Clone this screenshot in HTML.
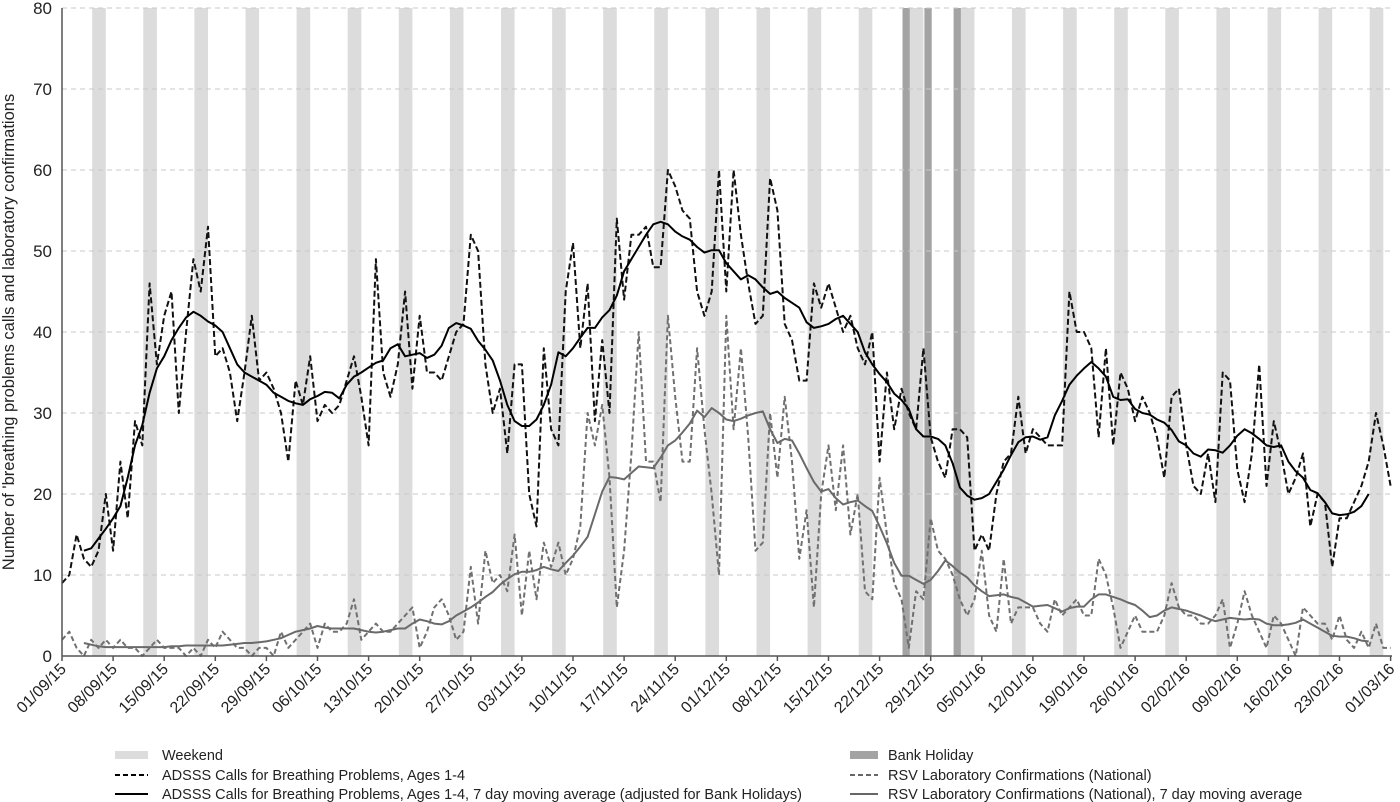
<!DOCTYPE html>
<html><head><meta charset="utf-8"><style>
body{margin:0;background:#fff;}
svg{display:block;font-family:"Liberation Sans",Arial,sans-serif;}
</style></head><body>
<svg id="chart" width="1400" height="802" viewBox="0 0 1400 802">
<g id="bands"></g><g id="grid"></g><g id="series"></g><g id="axes"></g><g id="legend"></g>
</svg>
<script>
const startDate=[2015,8,1];
const yTicks=[0,10,20,30,40,50,60,70,80];
const callsDaily=[9,10,15,12,11,13,20,
13,24,17,29,26,46,36,
42,45,30,40,49,45,53,
37,38,35,29,35,42,34,
35,33,30,24,34,31,37,
29,31,30,31,34,37,32,
26,49,35,32,36,45,33,
42,35,35,34,37,40,41,
52,50,36,30,33,25,36,
36,20,16,38,28,26,45,
51,38,46,29,39,30,54,
44,52,52,53,48,48,60,
58,55,54,45,42,45,60,
45,60,52,46,41,42,59,
55,41,39,34,34,46,43,
46,43,40,42,38,36,40,
24,35,28,33,30,28,38,
27,24,22,28,28,27,13,
15,13,20,24,25,32,25,
28,27,26,26,26,45,40,
40,38,27,38,26,35,33,
29,32,30,27,22,32,33,
26,21,20,25,19,35,34,
23,19,25,36,21,29,25,
20,22,25,16,20,19,11,
17,17,19,21,24,30,26,21];
const callsMAStart=3;
const callsMA=[13,13.3,14.5,15.7,17,18.5,22,26,28.5,32.5,35.5,37,39,40.5,41.8,42.5,42,41.3,40.8,40,38,36,35,34.5,34,33.5,32.5,32,31.5,31.2,31,31.7,32.1,32.6,32.5,31.8,33.5,34.5,35,35.6,36.2,36.5,38,38.5,37,37.2,37.4,36.8,37.2,38.3,40.5,41.1,40.8,40.4,38.9,37.8,36.5,34,31,29,28.4,28.4,29.2,31,33.5,37.5,37,38,39.3,40.5,40.5,41.8,42.7,44.5,47.5,49,50.5,52,53.3,53.6,53.3,52.4,51.8,51.4,50.5,49.8,50.1,50.1,48.5,47.5,46.5,47,46.5,45.5,44.7,45,44.2,43.6,43,41.2,40.5,40.7,41,41.6,42,41,40,37.5,36,34.8,33.8,32.4,31.6,30.5,28,27.1,27.1,26.8,26,23.8,20.8,19.8,19.3,19.5,20,21.5,23,24.8,26.4,27,27.1,26.7,27,29.7,31.5,33.5,34.6,35.5,36.3,35.5,34.5,32,31.6,31.7,30.5,30,29.8,29.2,28.8,27.9,26.5,26,25,24.6,25.5,25.4,25.1,26,27.2,28,27.5,26.8,26,25.8,26,24,22.8,22,20.5,20.1,19,17.6,17.4,17.5,17.8,18.5,20];
const rsvDaily=[2,3,1,0,2,1,2,
1,2,1,1,0,1,2,
1,1,1,0,1,0,2,
1,3,2,1,1,0,1,
1,0,3,1,2,3,4,
1,4,3,3,4,7,2,
3,4,3,3,4,5,6,
1,3,6,7,5,2,3,
11,4,13,9,10,8,15,
5,13,7,14,11,14,10,
12,16,30,26,31,22,6,
13,25,40,24,24,19,42,
32,24,24,38,28,20,10,
42,28,38,27,13,14,30,
22,32,24,12,18,6,20,
26,18,26,15,20,8,7,
22,15,9,7,1,8,7,
17,13,12,10,7,5,7,
13,5,3,12,4,6,6,
6,4,3,7,5,6,7,
5,5,12,10,6,1,3,
5,3,3,3,5,9,6,
5,5,4,4,5,7,1,
4,8,5,3,1,5,4,
2,0,6,5,4,4,2,
5,2,1,3,1,4,1,1];
const rsvMAStart=3;
const rsvMA=[1.6,1.4,1.2,1.1,1.1,1.1,1.1,1.1,1.1,1.1,1.1,1.1,1.2,1.2,1.3,1.3,1.3,1.3,1.3,1.3,1.4,1.5,1.6,1.6,1.7,1.8,2.0,2.2,2.6,3.0,3.2,3.4,3.7,3.5,3.4,3.4,3.4,3.4,3.2,3.0,2.9,3.0,3.2,3.4,3.4,4.0,4.5,4.3,4.0,3.9,4.3,5.0,5.5,6.0,6.6,7.3,7.9,8.8,9.5,10.1,10.4,10.4,10.6,11.0,10.7,10.5,11.5,12.4,13.5,14.7,17.5,20.3,22.1,22.0,21.8,22.6,23.4,23.3,23.2,24.5,26,26.6,27.6,28.7,30.3,29.5,30.6,30,29.2,29,29.3,29.7,30,30.2,28,26.3,26.8,26.6,25,23.2,21.5,20.3,20.6,19.5,18.7,19,19.2,18.5,17.9,16,13.9,11.5,9.9,9.9,9.4,8.9,9.4,10.5,11.8,11.1,10.3,9.7,8.7,8,7.4,7.5,7.6,7.3,7.1,6.6,6.1,6.2,6.3,5.9,5.5,5.9,6.1,6.1,7,7.6,7.6,7.3,7.0,6.6,6.3,5.6,4.8,5,5.6,6.0,5.8,5.6,5.3,5.0,4.6,4.3,4.5,4.7,4.6,4.5,4.6,4.5,4.0,3.8,3.8,3.9,4.1,4.5,4.0,3.5,3.0,2.5,2.4,2.4,2.2,1.9,1.8];
const bankHolidays=[115,118,122];
const firstWeekendDay=4;
const numDays=183;

const NS="http://www.w3.org/2000/svg";
const X0=62,DX=7.3,Y0=656,YS=8.1;
function xs(d){return X0+d*DX;}
function ys(v){return Y0-v*YS;}
function mk(tag,attrs,parent){const e=document.createElementNS(NS,tag);for(const k in attrs)e.setAttribute(k,attrs[k]);parent.appendChild(e);return e;}
const bands=document.getElementById('bands'),grid=document.getElementById('grid'),ser=document.getElementById('series'),axes=document.getElementById('axes'),leg=document.getElementById('legend');

for(let d=firstWeekendDay;d<numDays;d+=7){
  const r=mk('rect',{x:xs(d)+1,y:ys(80),width:Math.min(xs(d+2),xs(numDays-1)+5)-xs(d)-1,height:Y0-ys(80),fill:'#dcdcdc'},bands);
  
  
}
bankHolidays.forEach(d=>{
  const r=mk('rect',{x:xs(d)+1,y:ys(80),width:DX,height:Y0-ys(80),fill:'#a3a3a3'},bands);
  
  
});
yTicks.forEach(t=>{
  if(t>0){const l=mk('line',{x1:X0,x2:1392,y1:ys(t),y2:ys(t),stroke:'#c8c8c8','stroke-dasharray':'5,4','stroke-width':1},grid);
  
  }
  const tx=mk('text',{x:52,y:ys(t)+6,'text-anchor':'end','font-size':17,fill:'#222'},axes);
  tx.textContent=t;
  
  
});
function path(vals,start,stroke,dash,name){
  let s='';vals.forEach((v,i)=>{s+=(i?'L':'M')+xs(start+i).toFixed(1)+','+ys(v).toFixed(1);});
  const p=mk('path',{d:s,fill:'none',stroke:stroke,'stroke-width':2,'stroke-linejoin':'round'},ser);
  if(dash)p.setAttribute('stroke-dasharray',dash);
  
  
}
path(rsvDaily,0,'#707070','5,3','rsv-daily-line');
path(rsvMA,rsvMAStart,'#6a6a6a',null,'rsv-moving-average-line');
path(callsDaily,0,'#111','6,3','calls-daily-line');
path(callsMA,callsMAStart,'#000',null,'calls-moving-average-line');

let a=mk('line',{x1:X0,x2:X0,y1:ys(80),y2:Y0,stroke:'#555','stroke-width':1.5},axes);

a=mk('line',{x1:X0,x2:1392,y1:Y0,y2:Y0,stroke:'#555','stroke-width':1.5},axes);

const base=new Date(startDate[0],startDate[1],startDate[2]);
for(let d=0;d<numDays;d+=7){
  const x=xs(d);
  const tk=mk('line',{x1:x,x2:x,y1:Y0,y2:Y0+5,stroke:'#555','stroke-width':1.5},axes);
  
  
  const dt=new Date(base.getTime()+d*86400000+3600000*12);
  const lab=String(dt.getDate()).padStart(2,'0')+'/'+String(dt.getMonth()+1).padStart(2,'0')+'/'+String(dt.getFullYear()%100).padStart(2,'0');
  const t=mk('text',{x:x+5,y:Y0+14,'text-anchor':'end','font-size':16,fill:'#222',transform:`rotate(-45 ${x+5} ${Y0+14})`},axes);
  t.textContent=lab;
  
  
}
const yt=mk('text',{x:0,y:0,'text-anchor':'middle','font-size':16.5,fill:'#222',transform:'translate(14 332) rotate(-90)'},axes);
yt.textContent="Number of 'breathing problems calls and laboratory confirmations";



function legItem(sx,sw,tx,y,kind,col,label,name){
  const g=mk('g',{},leg);
  
  
  if(kind==='rect')mk('rect',{x:sx,y:y-4,width:sw,height:8,fill:col},g);
  else {const l=mk('line',{x1:sx,x2:sx+sw,y1:y,y2:y,stroke:col,'stroke-width':2},g);if(kind==='dash')l.setAttribute('stroke-dasharray','5,3');}
  const t=mk('text',{x:tx,y:y+5,'font-size':14.5,fill:'#222'},g);t.textContent=label;
}
legItem(115,33,162,755,'rect','#dcdcdc','Weekend','legend-weekend');
legItem(115,33,162,775,'dash','#000','ADSSS Calls for Breathing Problems, Ages 1-4','legend-calls-daily');
legItem(115,33,162,794,'line','#000','ADSSS Calls for Breathing Problems, Ages 1-4, 7 day moving average (adjusted for Bank Holidays)','legend-calls-ma');
legItem(850,28,888,755,'rect','#a3a3a3','Bank Holiday','legend-bank-holiday');
legItem(850,28,888,775,'dash','#666','RSV Laboratory Confirmations (National)','legend-rsv-daily');
legItem(850,28,888,794,'line','#666','RSV Laboratory Confirmations (National), 7 day moving average','legend-rsv-ma');
</script>
</body></html>
